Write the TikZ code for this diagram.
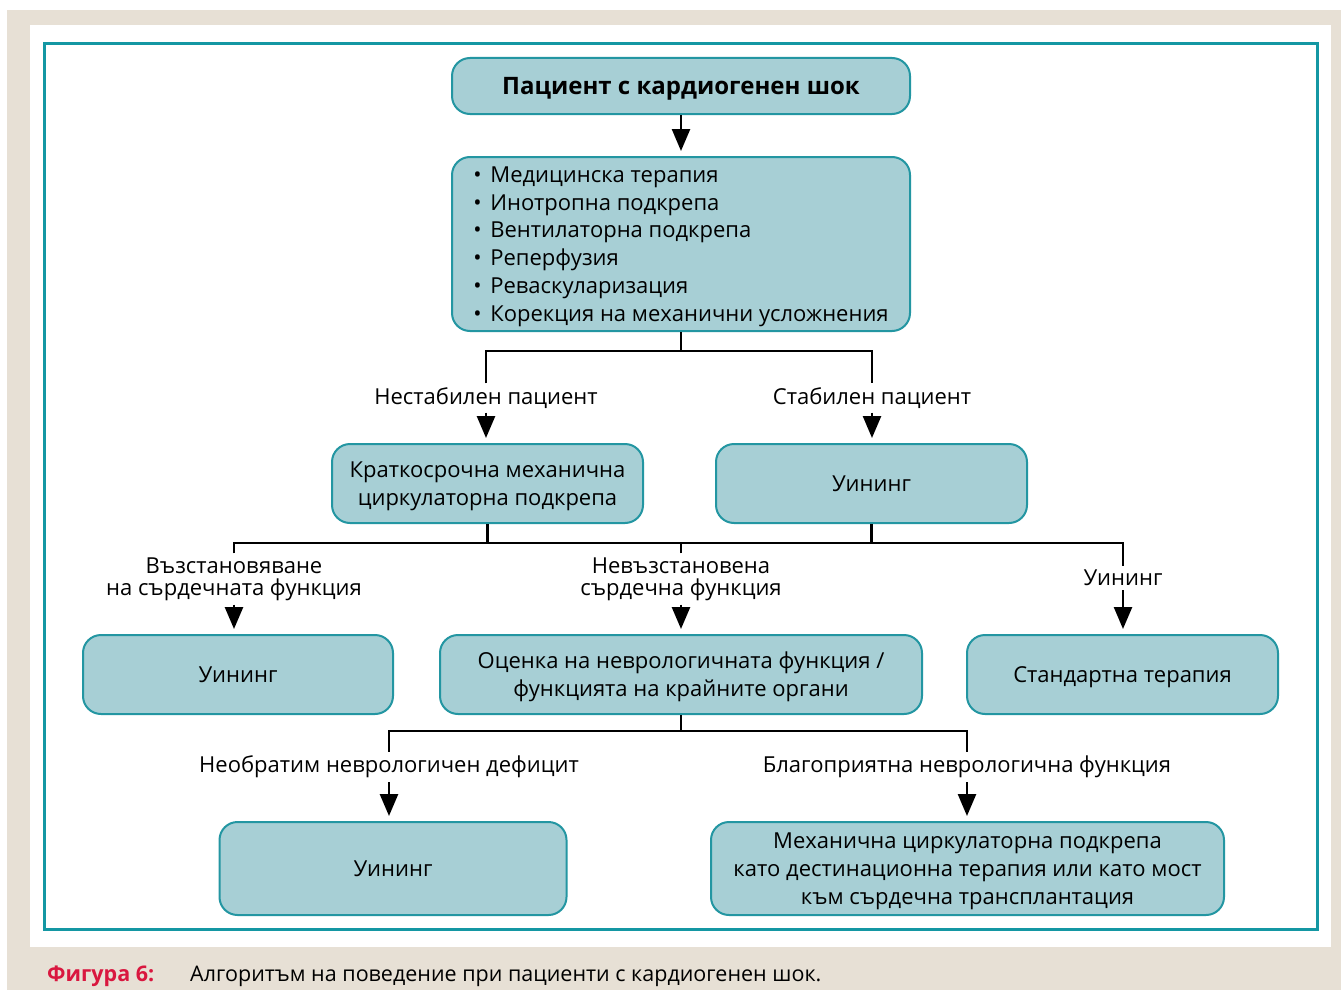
\documentclass[tikz,border=0pt]{standalone}
\usepackage{fontspec}
\setmainfont{Open Sans}
\usetikzlibrary{arrows.meta}
\definecolor{paper}{HTML}{E7E0D5}
\definecolor{frameteal}{HTML}{1497A3}
\definecolor{boxfill}{HTML}{A7CFD5}
\definecolor{boxline}{HTML}{2396A2}
\definecolor{figred}{HTML}{D9173F}
\newcommand\lstbul{\makebox[17pt][l]{•}}

\begin{document}
\begin{tikzpicture}[x=1pt,y=-1pt,
  box/.style={draw=boxline, fill=boxfill, line width=2pt, rounded corners=18pt,
    align=center, inner sep=0pt, font=\fontsize{22}{27.8}\selectfont,
    text depth=0pt},
  lab/.style={align=center, inner xsep=2pt, inner ysep=4pt,
    font=\fontsize{22}{22}\selectfont},
  link/.style={line width=2.6pt, line join=miter},
  arr/.style={link, -{Triangle[width=18pt,length=22pt]}, shorten >=5pt},
]
\useasboundingbox (0,0) rectangle (1341,990);

% page background, white panel and teal frame
\fill[paper] (7,10) rectangle (1341,990);
\fill[white] (30,25) rectangle (1331,947);
\draw[frameteal, line width=3pt] (44.5,43.5) rectangle (1317,929);

% boxes
\node[box, minimum width=458pt, minimum height=56pt,
  font=\fontsize{24}{28}\selectfont\bfseries] (start) at (681,86)
  {Пациент с кардиогенен шок};
\node[box, minimum width=458pt, minimum height=174pt, align=left] (measures) at (681,244)
  {\lstbul Медицинска терапия\\
   \lstbul Инотропна подкрепа\\
   \lstbul Вентилаторна подкрепа\\
   \lstbul Реперфузия\\
   \lstbul Реваскуларизация\\
   \lstbul Корекция на механични усложнения};
\node[box, minimum width=311pt, minimum height=79pt] (shortmcs) at (487.5,483.5)
  {Краткосрочна механична\\циркулаторна подкрепа};
\node[box, minimum width=311pt, minimum height=79pt] (wean1) at (871.5,483.5)
  {Уининг};
\node[box, minimum width=310pt, minimum height=79pt] (wean2) at (238,674.5)
  {Уининг};
\node[box, minimum width=482pt, minimum height=79pt] (assess) at (681,674.5)
  {Оценка на неврологичната функция /\\функцията на крайните органи};
\node[box, minimum width=311pt, minimum height=79pt] (stdtx) at (1122.5,674.5)
  {Стандартна терапия};
\node[box, minimum width=347pt, minimum height=93pt] (wean3) at (393,868.5)
  {Уининг};
\node[box, minimum width=513pt, minimum height=93pt] (durable) at (967.5,868.5)
  {Механична циркулаторна подкрепа\\като дестинационна терапия или като мост\\към сърдечна трансплантация};

% branch labels
\node[lab] (lunst) at (486,398) {Нестабилен пациент};
\node[lab] (lstab) at (872,398) {Стабилен пациент};
\node[lab] (lrec) at (234,579) {Възстановяване\\на сърдечната функция};
\node[lab] (lnrec) at (681,579) {Невъзстановена\\сърдечна функция};
\node[lab] (lwean) at (1123,578) {Уининг};
\node[lab] (lirr) at (389,767) {Необратим неврологичен дефицит};
\node[lab] (lfav) at (967,767) {Благоприятна неврологична функция};

% connectors
\draw[arr] (start) -- (measures);

\coordinate (b1) at (681,351);
\draw[link] (measures.south) -- (b1);
\draw[link] (lunst.north) |- (b1) -| (lstab.north);
\draw[arr] (lunst.south) -- (lunst.south |- shortmcs.north);
\draw[arr] (lstab.south) -- (lstab.south |- wean1.north);

\coordinate (b2) at (681,543);
\draw[link] (shortmcs.south) -- (shortmcs.south |- b2);
\draw[link] (wean1.south) -- (wean1.south |- b2);
\draw[link] (lrec.north) |- (b2) -| (lwean.north);
\draw[link] (lnrec.north) -- (lnrec.north |- b2);
\draw[arr] (lrec.south) -- (lrec.south |- wean2.north);
\draw[arr] (lnrec.south) -- (lnrec.south |- assess.north);
\draw[arr] (lwean.south) -- (lwean.south |- stdtx.north);

\coordinate (b3) at (681,731);
\draw[link] (assess.south) -- (b3);
\draw[link] (lirr.north) |- (b3) -| (lfav.north);
\draw[arr] (lirr.south) -- (lirr.south |- wean3.north);
\draw[arr] (lfav.south) -- (lfav.south |- durable.north);

% caption
\node[anchor=base west, inner sep=0pt, text=figred,
  font=\fontsize{21.5}{24}\selectfont\bfseries] (fignum) at (47,981) {Фигура 6:};
\node[anchor=base west, inner sep=0pt,
  font=\fontsize{21.5}{24}\selectfont] (figcap) at (190,981)
  {Алгоритъм на поведение при пациенти с кардиогенен шок.};
\end{tikzpicture}
\end{document}
